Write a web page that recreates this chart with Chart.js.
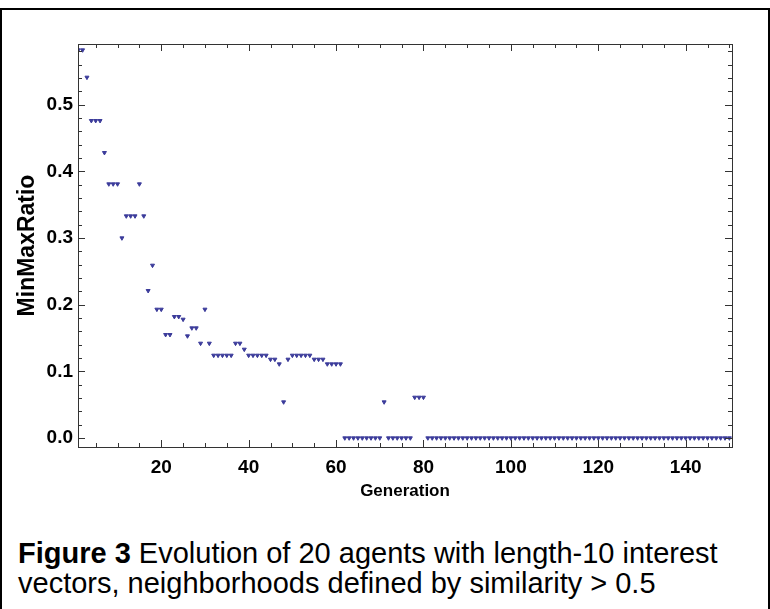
<!DOCTYPE html>
<html>
<head>
<meta charset="utf-8">
<script src="https://cdn.jsdelivr.net/npm/chart.js@4.4.1/dist/chart.umd.min.js"></script>
<style>
  html, body { margin: 0; padding: 0; background: #fff; }
  body { width: 770px; height: 609px; position: relative; overflow: hidden; font-family: "Liberation Sans", Arial, sans-serif; }
  #frame { position: absolute; left: 0; top: 8px; width: 766px; height: 640px; border: 2px solid #000; }
  #chartBox { position: absolute; left: 0; top: 0; width: 770px; height: 505px; }
  #caption { position: absolute; left: 18px; top: 538px; font-size: 29px; line-height: 30px; color: #000; white-space: nowrap; }
</style>
</head>
<body>
<div id="frame"></div>
<div id="chartBox"><canvas id="scatterChart"></canvas></div>
<div id="caption"><b>Figure 3</b> Evolution of 20 agents with length-10 interest<br>vectors, neighborhoods defined by similarity &gt; 0.5</div>
<script>
// Datos: generación 1..150 y su MinMaxRatio
const generations = Array.from({ length: 150 }, (_, i) => i + 1);
const minMaxRatio = [
    0.582, 0.582, 0.541, 0.476, 0.476, 0.476, 0.428, 0.381, 0.381, 0.381,
    0.300, 0.333, 0.333, 0.333, 0.381, 0.333, 0.221, 0.259, 0.193, 0.193,
    0.155, 0.155, 0.182, 0.182, 0.178, 0.153, 0.165, 0.165, 0.142, 0.193,
    0.142, 0.124, 0.124, 0.124, 0.124, 0.124, 0.142, 0.142, 0.133, 0.124,
    0.124, 0.124, 0.124, 0.124, 0.118, 0.118, 0.111, 0.054, 0.118, 0.124,
    0.124, 0.124, 0.124, 0.124, 0.118, 0.118, 0.118, 0.111, 0.111, 0.111,
    0.111, 0, 0, 0, 0, 0, 0, 0, 0, 0,
    0.054, 0, 0, 0, 0, 0, 0, 0.061, 0.061, 0.061,
    0, 0, 0, 0, 0, 0, 0, 0, 0, 0,
    0, 0, 0, 0, 0, 0, 0, 0, 0, 0,
    0, 0, 0, 0, 0, 0, 0, 0, 0, 0,
    0, 0, 0, 0, 0, 0, 0, 0, 0, 0,
    0, 0, 0, 0, 0, 0, 0, 0, 0, 0,
    0, 0, 0, 0, 0, 0, 0, 0, 0, 0,
    0, 0, 0, 0, 0, 0, 0, 0, 0, 0
];
const xTickLabels = [20, 40, 60, 80, 100, 120, 140];
const yTickLabels = [0.0, 0.1, 0.2, 0.3, 0.4, 0.5];

const frameColor = '#333';

// Marco con marcas hacia dentro (estilo Mathematica)
const framePlugin = {
    id: 'frameTicks',
    afterDraw(chart) {
        const ctx = chart.ctx;
        const a = chart.chartArea;
        const xs = chart.scales.x, ys = chart.scales.y;
        ctx.save();
        ctx.strokeStyle = frameColor;
        ctx.lineWidth = 1;
        ctx.strokeRect(Math.round(a.left) + 0.5, Math.round(a.top) + 0.5,
            Math.round(a.right - a.left), Math.round(a.bottom - a.top));
        ctx.beginPath();
        for (let v = 5; v <= xs.max; v += 5) {
            const px = Math.round(xs.getPixelForValue(v)) + 0.5;
            const len = v % 20 === 0 ? 7 : 4;
            ctx.moveTo(px, a.bottom); ctx.lineTo(px, a.bottom - len);
            ctx.moveTo(px, a.top); ctx.lineTo(px, a.top + len);
        }
        for (let k = 0; k <= 29; k++) {
            const v = k * 0.02;
            const py = Math.round(ys.getPixelForValue(v)) + 0.5;
            const len = k % 5 === 0 ? 7 : 4;
            ctx.moveTo(a.left, py); ctx.lineTo(a.left + len, py);
            ctx.moveTo(a.right, py); ctx.lineTo(a.right - len, py);
        }
        ctx.stroke();
        ctx.restore();
    }
};

document.addEventListener('DOMContentLoaded', function() {
    const points = generations.map((g, i) => ({ x: g, y: minMaxRatio[i] }));

    new Chart(document.getElementById('scatterChart').getContext('2d'), {
        type: 'scatter',
        data: {
            datasets: [{
                label: 'MinMaxRatio',
                data: points,
                pointStyle: 'triangle',
                rotation: 180,
                radius: 2.3,
                backgroundColor: '#3b3b9a',
                borderColor: '#3b3b9a',
                borderWidth: 1
            }]
        },
        options: {
            responsive: true,
            maintainAspectRatio: false,
            animation: false,
            layout: { padding: { top: 44, right: 38, left: 0, bottom: 0 } },
            plugins: { legend: { display: false }, tooltip: { enabled: false } },
            scales: {
                x: {
                    type: 'linear',
                    min: 0.95,
                    max: 150.6,
                    grid: { display: false, drawTicks: false },
                    border: { display: false },
                    afterBuildTicks: s => { s.ticks = xTickLabels.map(v => ({ value: v })); },
                    afterFit: s => { s.height = 58; },
                    ticks: {
                        color: '#000',
                        padding: 9,
                        maxRotation: 0,
                        font: { family: '"Liberation Sans", Arial', size: 19, weight: 'bold' }
                    },
                    title: {
                        display: true,
                        text: 'Generation',
                        color: '#000',
                        padding: { top: 0, bottom: 3 },
                        font: { family: '"Liberation Sans", Arial', size: 17, weight: 'bold' }
                    }
                },
                y: {
                    min: -0.0135,
                    max: 0.591,
                    grid: { display: false, drawTicks: false },
                    border: { display: false },
                    afterBuildTicks: s => { s.ticks = yTickLabels.map(v => ({ value: v })); },
                    afterFit: s => { s.width = 78; },
                    ticks: {
                        color: '#000',
                        padding: 5,
                        callback: v => v.toFixed(1),
                        font: { family: '"Liberation Sans", Arial', size: 19, weight: 'bold' }
                    },
                    title: {
                        display: true,
                        text: 'MinMaxRatio',
                        color: '#000',
                        padding: { top: 14, bottom: 0 },
                        font: { family: '"Liberation Sans", Arial', size: 23, weight: 'bold' }
                    }
                }
            }
        },
        plugins: [framePlugin]
    });
});
</script>
</body>
</html>
